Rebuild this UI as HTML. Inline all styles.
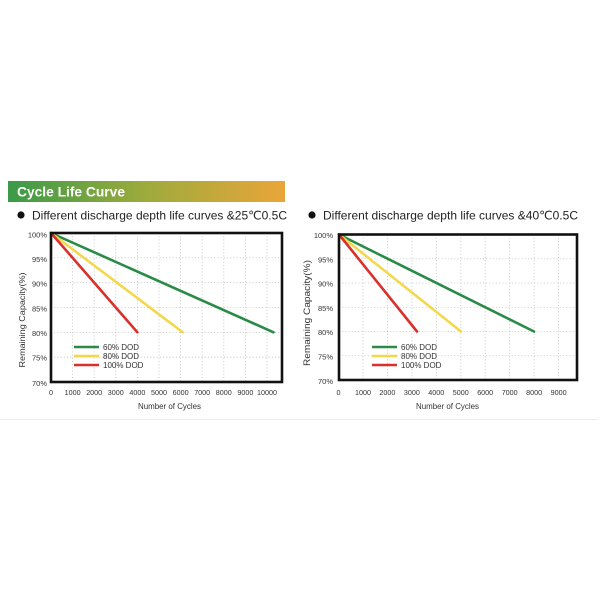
<!DOCTYPE html>
<html>
<head>
<meta charset="utf-8">
<style>
  html,body{margin:0;padding:0;background:#fff;}
  svg{display:block;}
  text{font-family:"Liberation Sans","DejaVu Sans","Noto Sans CJK SC",sans-serif;}
</style>
</head>
<body>
<svg width="600" height="600" viewBox="0 0 600 600" xmlns="http://www.w3.org/2000/svg">
  <defs>
    <linearGradient id="bg" x1="0" y1="0" x2="1" y2="0">
      <stop offset="0" stop-color="#3a9a48"/>
      <stop offset="0.5" stop-color="#9eab3c"/>
      <stop offset="1" stop-color="#eaa53a"/>
    </linearGradient>
  </defs>
  <rect x="0" y="0" width="600" height="600" fill="#fff"/>

  <!-- Banner -->
  <rect x="8" y="181" width="277" height="21" fill="url(#bg)"/>
  <text x="17" y="196.5" font-size="14" font-weight="bold" fill="#fff" textLength="108" lengthAdjust="spacingAndGlyphs">Cycle Life Curve</text>

  <!-- Subtitles -->
  <circle cx="21" cy="215" r="3.6" fill="#111"/>
  <text x="32" y="219.5" font-size="12" fill="#222" textLength="255" lengthAdjust="spacingAndGlyphs">Different discharge depth life curves &amp;25℃0.5C</text>
  <circle cx="312" cy="215" r="3.6" fill="#111"/>
  <text x="323" y="219.5" font-size="12" fill="#222" textLength="255" lengthAdjust="spacingAndGlyphs">Different discharge depth life curves &amp;40℃0.5C</text>

  <!-- ============ LEFT CHART ============ -->
  <g stroke="#bdbdbd" stroke-width="0.8" stroke-dasharray="1,2.2" fill="none">
    <line x1="51" y1="257.8" x2="282" y2="257.8"/>
    <line x1="51" y1="282.7" x2="282" y2="282.7"/>
    <line x1="51" y1="307.5" x2="282" y2="307.5"/>
    <line x1="51" y1="332.3" x2="282" y2="332.3"/>
    <line x1="51" y1="357.2" x2="282" y2="357.2"/>
    <line x1="72.6" y1="233" x2="72.6" y2="382"/>
    <line x1="94.2" y1="233" x2="94.2" y2="382"/>
    <line x1="115.8" y1="233" x2="115.8" y2="382"/>
    <line x1="137.4" y1="233" x2="137.4" y2="382"/>
    <line x1="159" y1="233" x2="159" y2="382"/>
    <line x1="180.6" y1="233" x2="180.6" y2="382"/>
    <line x1="202.2" y1="233" x2="202.2" y2="382"/>
    <line x1="223.8" y1="233" x2="223.8" y2="382"/>
    <line x1="245.4" y1="233" x2="245.4" y2="382"/>
    <line x1="267" y1="233" x2="267" y2="382"/>
  </g>
  <g stroke-width="2.6" stroke-linecap="round" fill="none">
    <line x1="51" y1="233" x2="273.5" y2="332.3" stroke="#2a8a48"/>
    <line x1="51" y1="233" x2="182.8" y2="332.3" stroke="#f3d84c"/>
    <line x1="51" y1="233" x2="137.4" y2="332.3" stroke="#d9302c"/>
  </g>
  <rect x="51" y="233" width="231" height="149" fill="none" stroke="#111" stroke-width="2.6"/>

  <!-- left legend -->
  <g stroke-width="2.6">
    <line x1="74" y1="347" x2="99" y2="347" stroke="#2a8a48"/>
    <line x1="74" y1="356" x2="99" y2="356" stroke="#f3d84c"/>
    <line x1="74" y1="365" x2="99" y2="365" stroke="#d9302c"/>
  </g>
  <g font-size="8" fill="#333">
    <text x="103" y="350">60% DOD</text>
    <text x="103" y="359">80% DOD</text>
    <text x="103" y="368">100% DOD</text>
  </g>

  <!-- left y ticks -->
  <g font-size="7.5" fill="#333" text-anchor="end">
    <text x="47" y="237.5">100%</text>
    <text x="47" y="262">95%</text>
    <text x="47" y="286.5">90%</text>
    <text x="47" y="311.5">85%</text>
    <text x="47" y="336">80%</text>
    <text x="47" y="360.5">75%</text>
    <text x="47" y="386">70%</text>
  </g>
  <!-- left x ticks -->
  <g font-size="7.2" fill="#333" text-anchor="middle">
    <text x="51" y="395">0</text>
    <text x="72.6" y="395">1000</text>
    <text x="94.2" y="395">2000</text>
    <text x="115.8" y="395">3000</text>
    <text x="137.4" y="395">4000</text>
    <text x="159" y="395">5000</text>
    <text x="180.6" y="395">6000</text>
    <text x="202.2" y="395">7000</text>
    <text x="223.8" y="395">8000</text>
    <text x="245.4" y="395">9000</text>
    <text x="267" y="395">10000</text>
  </g>
  <text x="138" y="409" font-size="8" fill="#333" textLength="63" lengthAdjust="spacingAndGlyphs">Number of Cycles</text>
  <text transform="translate(25,320) rotate(-90)" font-size="8.5" fill="#333" text-anchor="middle" textLength="95" lengthAdjust="spacingAndGlyphs">Remaining Capacity(%)</text>

  <!-- ============ RIGHT CHART ============ -->
  <g stroke="#bdbdbd" stroke-width="0.8" stroke-dasharray="1,2.2" fill="none">
    <line x1="339" y1="258.75" x2="577" y2="258.75"/>
    <line x1="339" y1="283" x2="577" y2="283"/>
    <line x1="339" y1="307.25" x2="577" y2="307.25"/>
    <line x1="339" y1="331.5" x2="577" y2="331.5"/>
    <line x1="339" y1="355.75" x2="577" y2="355.75"/>
    <line x1="363" y1="234.5" x2="363" y2="380"/>
    <line x1="387.4" y1="234.5" x2="387.4" y2="380"/>
    <line x1="411.9" y1="234.5" x2="411.9" y2="380"/>
    <line x1="436.3" y1="234.5" x2="436.3" y2="380"/>
    <line x1="460.8" y1="234.5" x2="460.8" y2="380"/>
    <line x1="485.2" y1="234.5" x2="485.2" y2="380"/>
    <line x1="509.7" y1="234.5" x2="509.7" y2="380"/>
    <line x1="534.1" y1="234.5" x2="534.1" y2="380"/>
    <line x1="558.6" y1="234.5" x2="558.6" y2="380"/>
  </g>
  <g stroke-width="2.6" stroke-linecap="round" fill="none">
    <line x1="339" y1="234.5" x2="534" y2="331.5" stroke="#2a8a48"/>
    <line x1="339" y1="234.5" x2="461" y2="331.5" stroke="#f3d84c"/>
    <line x1="339" y1="234.5" x2="417" y2="331.5" stroke="#d9302c"/>
  </g>
  <rect x="339" y="234.5" width="238" height="145.5" fill="none" stroke="#111" stroke-width="2.6"/>

  <!-- right legend -->
  <g stroke-width="2.6">
    <line x1="372" y1="347" x2="397" y2="347" stroke="#2a8a48"/>
    <line x1="372" y1="356" x2="397" y2="356" stroke="#f3d84c"/>
    <line x1="372" y1="365" x2="397" y2="365" stroke="#d9302c"/>
  </g>
  <g font-size="8" fill="#333">
    <text x="401" y="350">60% DOD</text>
    <text x="401" y="359">80% DOD</text>
    <text x="401" y="368">100% DOD</text>
  </g>

  <!-- right y ticks -->
  <g font-size="7.5" fill="#333" text-anchor="end">
    <text x="333" y="238">100%</text>
    <text x="333" y="262.5">95%</text>
    <text x="333" y="286.5">90%</text>
    <text x="333" y="311">85%</text>
    <text x="333" y="335">80%</text>
    <text x="333" y="359.5">75%</text>
    <text x="333" y="384">70%</text>
  </g>
  <!-- right x ticks -->
  <g font-size="7.2" fill="#333" text-anchor="middle">
    <text x="338.5" y="395">0</text>
    <text x="363" y="395">1000</text>
    <text x="387.4" y="395">2000</text>
    <text x="411.9" y="395">3000</text>
    <text x="436.3" y="395">4000</text>
    <text x="460.8" y="395">5000</text>
    <text x="485.2" y="395">6000</text>
    <text x="509.7" y="395">7000</text>
    <text x="534.1" y="395">8000</text>
    <text x="558.6" y="395">9000</text>
  </g>
  <text x="416" y="409" font-size="8" fill="#333" textLength="63" lengthAdjust="spacingAndGlyphs">Number of Cycles</text>
  <text transform="translate(310,313) rotate(-90)" font-size="9" fill="#333" text-anchor="middle" textLength="106" lengthAdjust="spacingAndGlyphs">Remaining Capacity(%)</text>

  <!-- faint separator -->
  <line x1="0" y1="419.5" x2="598" y2="419.5" stroke="#ececec" stroke-width="1"/>
</svg>
</body>
</html>
